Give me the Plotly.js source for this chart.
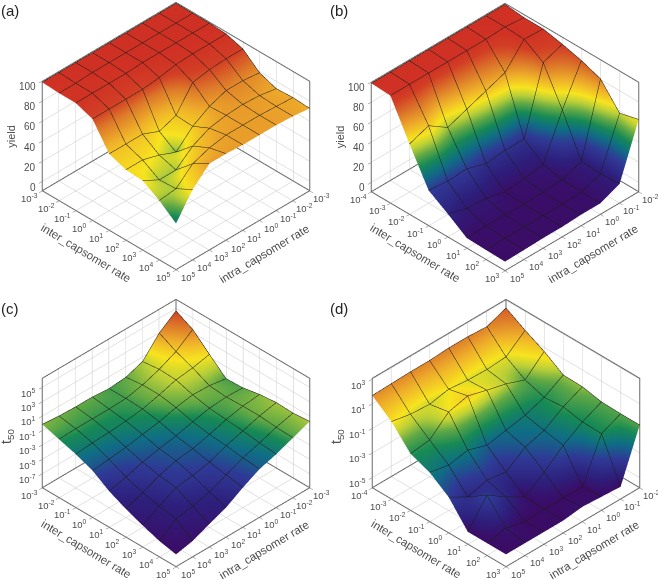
<!DOCTYPE html>
<html>
<head>
<meta charset="utf-8">
<script src="https://cdn.plot.ly/plotly-3.0.1.min.js"></script>
<style>html,body{margin:0;padding:0;background:#fff}#plot{width:658px;height:580px}</style>
</head>
<body>
<div id="plot"></div>
<script>
// ---------- axes (exponents of ten) ----------
var intraA = [-3,-2,-1,0,1,2,3,4,5];
var interA = [-3,-2,-1,0,1,2,3,4,5];
var intraB = [-2,-1,0,1,2,3,4,5];
var interB = [-4,-3,-2,-1,0,1,2,3];
var yieldTicks = [0,20,40,60,80,100];
var t50TicksC = [-7,-5,-3,-1,1,3,5];
var t50TicksD = [-5,-3,-1,1,3];

// ---------- surfaces: rows = inter rate, columns = intra rate ----------
var yieldA = [
 [99,99,99,99,99,99,99,99,99],
 [99,99,99,99,99,99,99,98,98],
 [99,99,99,99,99,98,98,98,98],
 [98,98,98,97,94,92,92,92,92],
 [93,93,92,89,66,60,67,67,67],
 [79,81,81,75,65,49,56,61,61],
 [73,76,77,76,73,65,51,51,60],
 [74,75,76,76,76,73,67,52,50],
 [73,75,76,76,76,77,77,61,37]
];
var yieldB = [
 [99,99,99,99,99,99,99,99],
 [97,99,98,98,98,98,98,98],
 [97,98,76,69,62,55,68,61],
 [93,86,21,21,19,25,24,26],
 [88,50,7,4,2,7,8,14],
 [81,10,3,2,1,2,2,1],
 [58,9,2,1,1,1,1,0.4],
 [63,10,2,2,1,1,0.4,0]
];
var logT50C = [
 [4.7,3.0,0.4,-0.4,-0.6,-0.4,-0.4,-0.3,-0.1],
 [3.5,1.8,0.7,-0.1,-0.6,-0.7,-0.7,-0.7,-0.8],
 [1.4,0.9,0.6,-0.1,-0.7,-1.0,-1.2,-1.3,-1.5],
 [-0.6,-0.2,-0.1,-0.5,-1.1,-1.5,-1.9,-2.2,-2.4],
 [-0.5,-0.4,-0.6,-1.1,-1.7,-2.1,-2.6,-3.3,-3.9],
 [-0.05,-0.3,-0.8,-1.5,-2.1,-2.4,-3.1,-4.1,-5.0],
 [0.2,-0.3,-1.0,-1.7,-2.6,-3.1,-3.4,-4.6,-5.9],
 [0.1,-0.5,-1.3,-2.0,-3.0,-4.0,-4.6,-5.0,-6.7],
 [0.3,-0.6,-1.5,-2.2,-3.4,-4.8,-5.7,-6.7,-7.2]
];
var logT50D = [
 [2.4,1.8,1.9,1.9,1.8,1.8,1.75,1.7],
 [1.5,0.26,0.15,0.2,0.38,0.07,0.18,0.5],
 [0.7,-0.7,-0.1,0.3,0.75,0.37,-1.0,-1.2],
 [-0.3,-1.2,-1.74,-2.05,-2.35,-1.83,-2.13,-1.8],
 [-0.34,-1.05,-2.05,-2.5,-3.6,-3.35,-3.8,-2.9],
 [-0.65,-1.37,-2.35,-3.6,-4.7,-3.8,-2.73,-4.8],
 [-0.7,-1.4,-4.8,-4.8,-4.8,-4.9,-4.5,-4.8],
 [-0.7,-4.8,-4.7,-4.6,-4.8,-4.8,-4.8,-4.8]
];

// ---------- colours: value stop -> colour ----------
var ramp = ['#3b0c66','#2e1f7c','#2f3a96','#0f6e85','#178a55','#5fa846','#b9cf38','#f7e41f','#efb02a','#dd7a2a','#d23f25','#cf2e24'];
var stopsA = [0,12,25,33,41,47,52,58,72,84,93,100];
var stopsB = [0,12,25,35,43,50,57,63,72,82,92,100];
var stopsC = [-7.2,-4.5,-2.8,-1.7,-0.9,-0.4,0.4,1.3,2.5,3.6,4.7,6.3];
var stopsD = [-4.8,-4.1,-3,-2.1,-1.3,-0.6,-0.1,0.4,1.2,2.0,2.9,3.1];

function scale(stops){
  var a = stops[0], b = stops[stops.length-1];
  return stops.map(function(s,i){ return [(s-a)/(b-a), ramp[i]]; });
}
var TXT = '#4d4d4d', FONT = '"Liberation Sans", Arial, sans-serif';
var EYE = 1.25, ASPECT = 1.396;

function supLabel(e){ return '10<sup>'+e+'</sup>'; }

function panel(n, o){
  var sid = n===1 ? 'scene' : 'scene'+n;
  var x0=o.intra[0], x1=o.intra[o.intra.length-1];
  var y0=o.inter[0], y1=o.inter[o.inter.length-1];
  var z0=o.zr[0], z1=o.zr[1];
  var surf = {
    type:'surface', scene:sid, x:o.intra, y:o.inter, z:o.z,
    colorscale:scale(o.stops), cmin:o.stops[0], cmax:o.stops[o.stops.length-1],
    showscale:false, hoverinfo:'skip',
    lighting:{ambient:1,diffuse:0,specular:0,roughness:1,fresnel:0},
    contours:{
      x:{show:true,start:x0,end:x1,size:1,color:'#1c1c16',width:1.5,highlight:false},
      y:{show:true,start:y0,end:y1,size:1,color:'#1c1c16',width:1.5,highlight:false},
      z:{highlight:false}
    }
  };
  // box outline as one unbroken walk along the cube's edges
  var A=[x0,y0,z0],B=[x1,y0,z0],C=[x1,y1,z0],D=[x0,y1,z0],Au=[x0,y0,z1],Bu=[x1,y0,z1],Du=[x0,y1,z1];
  var walk=[A,Au,Bu,B,C,D,Du,Au,A,D,A,B];
  var box = {type:'scatter3d',scene:sid,mode:'lines',
    x:walk.map(function(p){return p[0];}),y:walk.map(function(p){return p[1];}),z:walk.map(function(p){return p[2];}),
    line:{color:'#6a6a6a',width:2},hoverinfo:'skip',showlegend:false};

  var ann = [];
  function add(x,y,z,text,dx,dy,size,angle,anchor){
    ann.push({x:x,y:y,z:z,text:text,showarrow:false,xshift:dx,yshift:dy,textangle:angle||0,
      xanchor:anchor||'center',yanchor:'middle',font:{family:FONT,size:size,color:TXT}});
  }
  o.intra.forEach(function(v){ add(v,y1,z0,supLabel(v),12,-7,9.5); });
  o.inter.forEach(function(v){ add(x1,v,z0,supLabel(v),-13,-7,9.5); });
  o.zt.forEach(function(v){ add(x1,y0,v,o.zl(v),-4,-5,o.zfs,0,'right'); });
  add(x1,(y0+y1)/2,z0,'inter_capsomer rate',-23,-22,11.5,31);
  add((x0+x1)/2,y1,z0,'intra_capsomer rate',21,-23,11.5,-31);
  add(x1,y0,(z0+z1)/2+o.ztOff,o.zt_title,o.ztX,0,o.ztFs,-90);

  var pad = function(a,b){ var e=(b-a)*0.002; return [a-e,b+e]; };
  var ax = function(t,r){ return {
    type:'linear',range:pad(r[0],r[1]),autorange:false,tickmode:'array',tickvals:t,
    showticklabels:false,ticks:'outside',ticklen:4,tickcolor:'#6a6a6a',
    showgrid:true,gridcolor:'#c6c6c6',gridwidth:1,zeroline:false,showline:false,
    showbackground:false,showspikes:false,title:{text:''}
  };};
  var scene = {
    domain:{x:[(o.cx-150)/658,(o.cx+150)/658],y:[(580-o.cy-136)/580,(580-o.cy+136)/580]},
    xaxis:ax(o.intra,[x0,x1]), yaxis:ax(o.inter,[y0,y1]), zaxis:ax(o.zt,[z0,z1]),
    aspectmode:'manual',aspectratio:{x:ASPECT,y:ASPECT,z:ASPECT*0.717},
    camera:{eye:{x:EYE,y:EYE,z:EYE*1.034},up:{x:0,y:0,z:1},center:{x:0,y:0,z:0},
      projection:{type:'orthographic'}},
    annotations:ann, bgcolor:'rgba(0,0,0,0)'
  };
  return {traces:[surf,box],scene:scene,sid:sid};
}

var P = [
 panel(1,{intra:intraA,inter:interA,z:yieldA,stops:stopsA,zr:[-9,100],zt:yieldTicks,
   zl:function(v){return String(v);},zfs:10,zt_title:'yield',ztX:-31,ztFs:11,ztOff:0,cx:176,cy:136.5}),
 panel(2,{intra:intraB,inter:interB,z:yieldB,stops:stopsB,zr:[-9,100],zt:yieldTicks,
   zl:function(v){return String(v);},zfs:10,zt_title:'yield',ztX:-31,ztFs:11,ztOff:0,cx:505,cy:137}),
 panel(3,{intra:intraA,inter:interA,z:logT50C,stops:stopsC,zr:[-8.9,6.3],zt:t50TicksC,
   zl:supLabel,zfs:9.5,zt_title:'t<sub>50</sub>',ztX:-36,ztFs:14,ztOff:-0.5,cx:176,cy:433}),
 panel(4,{intra:intraB,inter:interB,z:logT50D,stops:stopsD,zr:[-5.8,3.1],zt:t50TicksD,
   zl:supLabel,zfs:9.5,zt_title:'t<sub>50</sub>',ztX:-36,ztFs:14,ztOff:-0.3,cx:506,cy:433})
];

var data=[], layout={
  width:658,height:580,margin:{l:0,r:0,t:0,b:0},paper_bgcolor:'#fff',showlegend:false,
  annotations:[['(a)',10,10],['(b)',339,10],['(c)',10,308],['(d)',339,308]].map(function(a){
    return {xref:'paper',yref:'paper',x:a[1]/658,y:1-a[2]/580,text:a[0],showarrow:false,
      xanchor:'center',yanchor:'middle',font:{family:FONT,size:15,color:'#222'}};
  })
};
P.forEach(function(p){ data=data.concat(p.traces); layout[p.sid]=p.scene; });
Plotly.newPlot('plot',data,layout,{displayModeBar:false,responsive:false});
</script>
</body>
</html>
